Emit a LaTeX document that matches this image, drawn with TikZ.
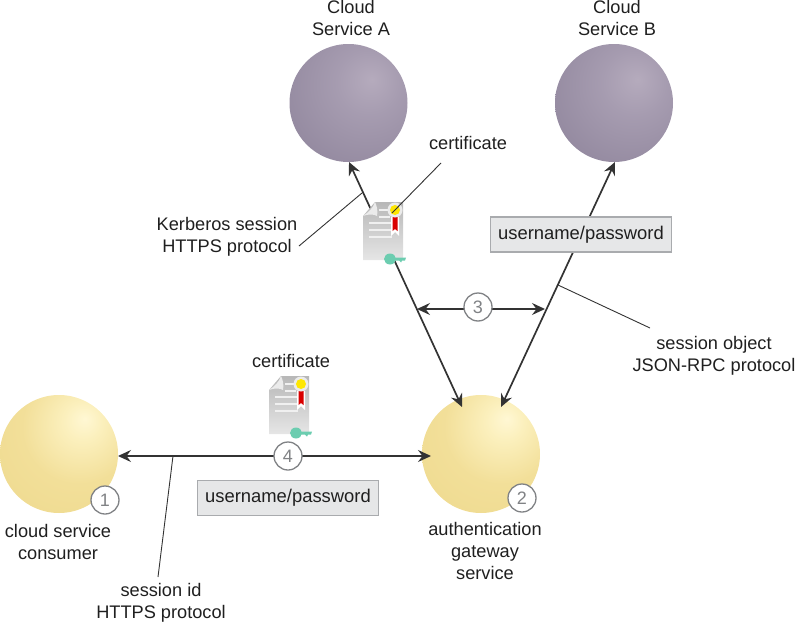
\documentclass[tikz,border=0pt]{standalone}
\usepackage{fontspec}
\setmainfont{Liberation Sans}
\usetikzlibrary{arrows.meta}
\definecolor{inkc}{HTML}{333333}
\definecolor{boxf}{HTML}{E6E7E8}
\definecolor{boxd}{HTML}{A9ABAE}
\definecolor{numc}{HTML}{808285}
\definecolor{keyc}{HTML}{6CCDB0}
\pgfdeclareradialshading{ballyellow}{\pgfpoint{11bp}{15bp}}{
  rgb(0bp)=(1.0,0.97,0.83);
  rgb(8bp)=(0.985,0.94,0.74);
  rgb(24bp)=(0.95,0.875,0.60);
  rgb(50bp)=(0.93,0.85,0.55);
  rgb(100bp)=(0.93,0.85,0.55)}
\pgfdeclareradialshading{ballpurple}{\pgfpoint{10bp}{10bp}}{
  rgb(0bp)=(0.71,0.67,0.74);
  rgb(14bp)=(0.65,0.61,0.69);
  rgb(45bp)=(0.55,0.51,0.60);
  rgb(100bp)=(0.53,0.49,0.58)}
\tikzset{
  ball/.style={circle,minimum size=118pt,inner sep=0pt,shade,shading=#1},
  conn/.style={draw=inkc,line width=1.7pt,{Stealth[length=13pt,width=12pt,inset=4.5pt]}-{Stealth[length=13pt,width=12pt,inset=4.5pt]}},
  leader/.style={draw=inkc,line width=0.9pt},
  lbl/.style={align=center,font=\fontsize{18.2}{22}\selectfont,text=black!88,inner sep=0pt},
  lbox/.style={rectangle,fill=boxf,draw=boxd,line width=1.5pt,font=\fontsize{18.4}{22}\selectfont,text=black!88,inner sep=0pt},
  num/.style={circle,fill=white,draw=numc,line width=1.3pt,minimum size=28pt,inner sep=0pt,font=\fontsize{18}{20}\selectfont,text=numc},
  certdoc/.pic={
    \shade[top color=black!28,bottom color=black!10] (12,0) -- (40,0) -- (40,58) -- (0,58) -- (0,14) -- cycle;
    \fill[black!8] (12,0) .. controls (10,6) and (6,10) .. (0,14) .. controls (5,12) and (11,12) .. (14,14) .. controls (15,9) and (14,4) .. (12,0) -- cycle;
    \draw[white!94!black,line width=1.3pt] (16,8) -- (27,8) (16,15) -- (27,15) (6,21) -- (29,21) (6,28) -- (29,28) (6,35) -- (29,35);
    \fill[white] (28,15) -- (36,15) -- (36,34) -- (32,30) -- (28,34) -- cycle;
    \fill[red!85!black] (29.5,13) -- (34.5,13) -- (34.5,29) -- (32,27) -- (29.5,29) -- cycle;
    \fill[white!92!black] (32,8) circle (7.5pt);
    \fill[yellow!90!orange] (32,8) circle (5pt);
    \fill[keyc] (27,57) ellipse (6pt and 5.5pt);
    \fill[keyc] (27,55.5) -- (43,55.5) -- (42,58.5) -- (39,58.5) -- (38,60.5) -- (36,58.5) -- (27,59) -- cycle;
  }
}
\begin{document}
\begin{tikzpicture}[x=1pt,y=-1pt]
\useasboundingbox (0,0) rectangle (796,624);
% spheres
\node[ball=ballpurple] (svcA) at (348.5,103) {};
\node[ball=ballpurple] (svcB) at (614,103) {};
\node[ball=ballyellow] (cons) at (59,454) {};
\node[ball=ballyellow] (gate) at (481,454) {};
% connector ends
\coordinate (tipA) at (349,162);
\coordinate (tipB) at (615,162);
\coordinate (gateA) at (462,407);
\coordinate (gateB) at (501,407);
\coordinate (tipL) at (417,309);
\coordinate (tipR) at (545,309);
\coordinate (consE) at (118,456);
\coordinate (gateW) at (431,456);
\draw[conn] (tipA) -- (gateA);
\draw[conn] (tipB) -- (gateB);
\draw[conn] (tipL) -- (tipR);
\draw[conn] (consE) -- (gateW);
% certificates
\pic (certA) at (363,202) {certdoc};
\pic (certB) at (269,376) {certdoc};
% leader lines
\coordinate (kerbL) at (299,246);
\coordinate (kerbA) at (362,193);
\coordinate (certL) at (392,213);
\coordinate (certT) at (441,163);
\coordinate (sessL) at (558,285);
\coordinate (sessE) at (650,328);
\coordinate (idL) at (173,456);
\coordinate (idE) at (158,577);
\draw[leader] (kerbL) -- (kerbA);
\draw[leader] (certL) -- (certT);
\draw[leader] (sessL) -- (sessE);
\draw[leader] (idL) -- (idE);
% boxes
\node[lbox,minimum width=181pt,minimum height=35pt] (boxB) at (581,234.5) {username/password};
\node[lbox,minimum width=181pt,minimum height=35pt] (boxC) at (288,498) {username/password};
% numbers
\node[num] (n1) at (105,500) {1};
\node[num] (n2) at (522,498) {2};
\node[num] (n3) at (478,307) {3};
\node[num] (n4) at (288,456) {4};
% labels
\node[lbl] (lA) at (351,18) {Cloud\\Service A};
\node[lbl] (lB) at (617,18) {Cloud\\Service B};
\node[lbl] (lC1) at (468,143) {certificate};
\node[lbl] (lC2) at (291,361) {certificate};
\node[lbl] (lK) at (227,237) {Kerberos session\\HTTPS protocol};
\node[lbl] (lS) at (714,356) {session object\\JSON-RPC protocol};
\node[lbl] (lCo) at (58,542) {cloud service\\consumer};
\node[lbl] (lG) at (485,551) {authentication\\gateway\\service};
\node[lbl] (lI) at (161,603) {session id\\HTTPS protocol};
\end{tikzpicture}
\end{document}
